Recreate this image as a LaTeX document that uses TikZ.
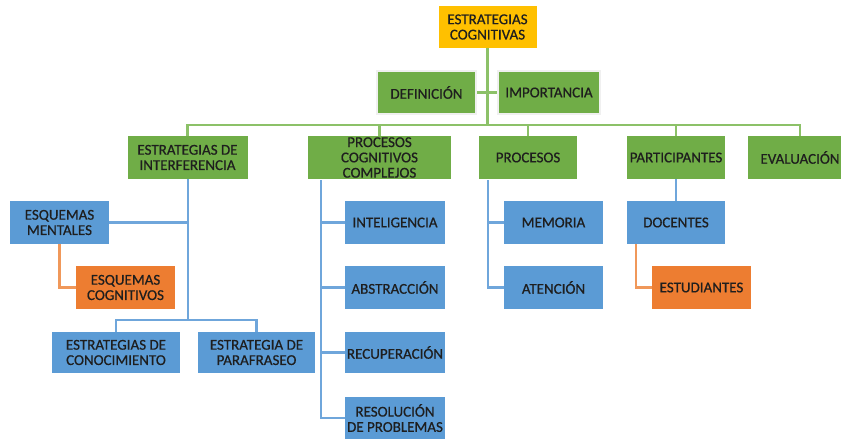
\documentclass[tikz,border=0pt]{standalone}
\usepackage{fontspec}
\setmainfont{Carlito}
\newfontface\boxfont{Carlito}[FakeBold=0.6]
\definecolor{gbox}{HTML}{70AD47}
\definecolor{bbox}{HTML}{5B9BD5}
\definecolor{obox}{HTML}{ED7D31}
\definecolor{ybox}{HTML}{FFC000}
\definecolor{gln}{HTML}{8CC168}
\definecolor{bln}{HTML}{6FA6DB}
\definecolor{oln}{HTML}{F0985A}
\definecolor{txt}{HTML}{1E1E1E}
\tikzset{
  boxbase/.style={inner sep=0pt, align=center, text=txt, font=\boxfont\fontsize{15}{15.3}\selectfont},
  gnode/.style={boxbase, fill=gbox},
  gnodeb/.style={boxbase, fill=gbox, draw=white!88!gray, line width=1.5pt},
  bnode/.style={boxbase, fill=bbox},
  onode/.style={boxbase, fill=obox},
  ynode/.style={boxbase, fill=ybox},
  gline/.style={draw=gln, line width=2.5pt},
  bline/.style={draw=bln, line width=2.8pt},
  oline/.style={draw=oln, line width=2.5pt},
}
\begin{document}
\begin{tikzpicture}[x=1pt,y=-1pt]
\path[clip] (0,0) rectangle (841,439);
\useasboundingbox (0,0) rectangle (841,439);
% top
\node[ynode, minimum width=98pt, minimum height=42pt] (top) at (487.5,27) {ESTRATEGIAS\\COGNITIVAS};
\node[gnodeb, minimum width=99pt, minimum height=43pt] (def) at (426.5,92.5) {DEFINICIÓN};
\node[gnodeb, minimum width=102pt, minimum height=43pt] (imp) at (549,92.5) {IMPORTANCIA};
% green row
\node[gnode, minimum width=120pt, minimum height=43pt] (ei) at (187.5,157.5) {ESTRATEGIAS DE\\INTERFERENCIA};
\node[gnode, minimum width=143pt, minimum height=43pt] (pcc) at (379.5,157.5) {PROCESOS\\COGNITIVOS\\COMPLEJOS};
\node[gnode, minimum width=98pt, minimum height=43pt] (proc) at (528,157.5) {PROCESOS};
\node[gnode, minimum width=98pt, minimum height=43pt] (part) at (676,157.5) {PARTICIPANTES};
\node[gnode, minimum width=104pt, minimum height=43pt] (eval) at (800,157.5) {EVALUACIÓN};
% blue row 1
\node[bnode, minimum width=99pt, minimum height=43pt] (em) at (59.5,222.5) {ESQUEMAS\\MENTALES};
\node[bnode, minimum width=100pt, minimum height=43pt] (int) at (395,222.5) {INTELIGENCIA};
\node[bnode, minimum width=99pt, minimum height=43pt] (mem) at (553.5,222.5) {MEMORIA};
\node[bnode, minimum width=98pt, minimum height=43pt] (doc) at (676,222.5) {DOCENTES};
% row 2
\node[onode, minimum width=99pt, minimum height=43pt] (ec) at (125.5,287.5) {ESQUEMAS\\COGNITIVOS};
\node[bnode, minimum width=100pt, minimum height=43pt] (abs) at (395,287.5) {ABSTRACCIÓN};
\node[bnode, minimum width=99pt, minimum height=43pt] (aten) at (553.5,287.5) {ATENCIÓN};
\node[onode, minimum width=99pt, minimum height=43pt] (estud) at (701.5,287.5) {ESTUDIANTES};
% row 3
\node[bnode, minimum width=128pt, minimum height=41pt] (econ) at (116,352.5) {ESTRATEGIAS DE\\CONOCIMIENTO};
\node[bnode, minimum width=117pt, minimum height=41pt] (epar) at (256.5,352.5) {ESTRATEGIA DE\\PARAFRASEO};
\node[bnode, minimum width=100pt, minimum height=41pt] (rec) at (395,352.5) {RECUPERACIÓN};
% row 4
\node[bnode, minimum width=100pt, minimum height=42pt] (res) at (395,418) {RESOLUCIÓN\\DE PROBLEMAS};
% helper coordinates
\coordinate (hb) at (0,125);
\coordinate (b1) at (188,320);
\coordinate (p1) at (321,180);
\coordinate (q1) at (488,180);
\coordinate (r1) at (636,244);
% green connectors
\draw[gline] (top.south) -- (top.south |- hb);
\draw[gline] (def.east) -- (imp.west);
\draw[gline] (ei.north) -- (ei.north |- hb) -- (eval.north |- hb) -- (eval.north);
\draw[gline] (pcc.north) -- (pcc.north |- hb);
\draw[gline] (proc.north) -- (proc.north |- hb);
\draw[gline] (part.north) -- (part.north |- hb);
% blue connectors
\draw[bline] (ei.south -| b1) -- (b1);
\draw[bline] (em.east) -- (em.east -| b1);
\draw[bline] (econ.north) |- (b1) -| (epar.north);
\draw[bline] (p1) |- (res.west);
\draw[bline] (p1 |- int.west) -- (int.west);
\draw[bline] (p1 |- abs.west) -- (abs.west);
\draw[bline] (p1 |- rec.west) -- (rec.west);
\draw[bline] (q1) |- (aten.west);
\draw[bline] (q1 |- mem.west) -- (mem.west);
\draw[bline] (part.south) -- (doc.north);
% orange connectors
\draw[oline] (em.south) |- (ec.west);
\draw[oline] (r1) |- (estud.west);
\end{tikzpicture}
\end{document}
